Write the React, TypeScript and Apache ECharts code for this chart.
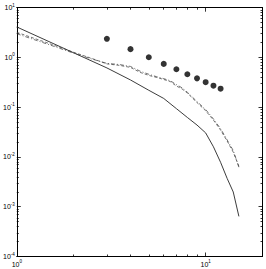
import React, { useEffect, useRef } from "react";
import * as echarts from "echarts";

const solidX = [1, 2, 3, 4, 5, 6, 7, 8, 9, 10, 11, 12, 13, 14, 15];
const solidY = [4.1, 1.24, 0.616, 0.353, 0.219, 0.15, 0.0937, 0.0623, 0.0438, 0.0305, 0.016, 0.0078, 0.0037, 0.00198, 0.00064];

const dashX = [1, 1.5, 2, 2.5, 3, 3.5, 4, 4.5, 5, 5.5, 6, 6.5, 7, 7.5, 8, 9, 10, 11, 12, 13, 14, 15];
const dashY = [3.2, 1.88, 1.27, 0.954, 0.743, 0.693, 0.631, 0.501, 0.436, 0.397, 0.361, 0.327, 0.267, 0.233, 0.193, 0.124, 0.085, 0.055, 0.0347, 0.0209, 0.0125, 0.0065];
const dashDotY = [3.0, 1.78, 1.22, 0.93, 0.76, 0.72, 0.66, 0.53, 0.46, 0.41, 0.375, 0.34, 0.285, 0.245, 0.2, 0.13, 0.09, 0.058, 0.037, 0.022, 0.0135, 0.0062];

const dotX = [3, 4, 5, 6, 7, 8, 9, 10, 11, 12];
const dotY = [2.37, 1.47, 1.01, 0.743, 0.58, 0.46, 0.38, 0.318, 0.271, 0.236];

const xMajor = [1, 10];
const xMinor = [2, 3, 4, 5, 6, 7, 8, 9, 20];
const yMajor = [1e-4, 1e-3, 1e-2, 1e-1, 1, 10];
const yMinor = [
  2e-4, 3e-4, 4e-4, 5e-4, 6e-4, 7e-4, 8e-4, 9e-4,
  2e-3, 3e-3, 4e-3, 5e-3, 6e-3, 7e-3, 8e-3, 9e-3,
  2e-2, 3e-2, 4e-2, 5e-2, 6e-2, 7e-2, 8e-2, 9e-2,
  0.2, 0.3, 0.4, 0.5, 0.6, 0.7, 0.8, 0.9,
  2, 3, 4, 5, 6, 7, 8, 9,
];

const FONT = "Liberation Sans";

const supFormatter = (v: number) => {
  const e = Math.round(Math.log10(v));
  return "{b|10}{s|" + e + "}";
};
const rich = {
  b: { fontSize: 7, fontFamily: FONT, color: "#000", lineHeight: 9 },
  s: { fontSize: 4.5, fontFamily: FONT, color: "#000", lineHeight: 9, padding: [0, 0, 5, 0] },
};

function makeAxis(kind: "x" | "y", position: string, major: boolean, labels: boolean) {
  const isX = kind === "x";
  return {
    type: "log",
    logBase: 10,
    min: isX ? 1 : 1e-4,
    max: isX ? 20 : 10,
    position,
    axisLine: { show: major, lineStyle: { color: "#000", width: 1 } },
    axisTick: {
      show: true,
      inside: true,
      length: major ? 4 : 2,
      lineStyle: { color: "#000", width: 0.8 },
      customValues: major ? (isX ? xMajor : yMajor) : isX ? xMinor : yMinor,
    },
    minorTick: { show: false },
    splitLine: { show: false },
    axisLabel: labels
      ? {
          show: true,
          customValues: isX ? xMajor : yMajor,
          formatter: supFormatter,
          rich,
          margin: isX ? 3 : 2,
        }
      : { show: false },
  };
}

export default function App() {
  const ref = useRef<HTMLDivElement>(null);
  useEffect(() => {
    if (!ref.current) return;
    const chart = echarts.init(ref.current, null, { renderer: "svg" });
    chart.setOption({
      animation: false,
      backgroundColor: "#fff",
      grid: { left: 16, right: 3.5, top: 7.7, bottom: 12.5, containLabel: false },
      xAxis: [
        makeAxis("x", "bottom", true, true),
        makeAxis("x", "bottom", false, false),
        makeAxis("x", "top", true, false),
        makeAxis("x", "top", false, false),
      ],
      yAxis: [
        makeAxis("y", "left", true, true),
        makeAxis("y", "left", false, false),
        makeAxis("y", "right", true, false),
        makeAxis("y", "right", false, false),
      ],
      series: [
        {
          type: "line",
          data: solidX.map((x, i) => [x, solidY[i]]),
          showSymbol: false,
          lineStyle: { color: "#262626", width: 0.9, type: "solid" },
          xAxisIndex: 0,
          yAxisIndex: 0,
        },
        {
          type: "line",
          data: dashX.map((x, i) => [x, dashY[i]]),
          showSymbol: false,
          lineStyle: { color: "#3a3a3a", width: 0.7, type: [3, 2] },
          xAxisIndex: 0,
          yAxisIndex: 0,
        },
        {
          type: "line",
          data: dashX.map((x, i) => [x, dashDotY[i]]),
          showSymbol: false,
          lineStyle: { color: "#3a3a3a", width: 0.7, type: [4, 2, 1, 2] },
          xAxisIndex: 0,
          yAxisIndex: 0,
        },
        {
          type: "scatter",
          data: dotX.map((x, i) => [x, dotY[i]]),
          symbol: "circle",
          symbolSize: 6,
          itemStyle: { color: "#000" },
          xAxisIndex: 0,
          yAxisIndex: 0,
        },
        { type: "line", data: [], xAxisIndex: 1, yAxisIndex: 1 },
        { type: "line", data: [], xAxisIndex: 2, yAxisIndex: 2 },
        { type: "line", data: [], xAxisIndex: 3, yAxisIndex: 3 },
      ],
    });
    return () => chart.dispose();
  }, []);
  return (
    <div
      ref={ref}
      style={{ position: "fixed", left: 0, top: 0, width: 266, height: 269, background: "#fff" }}
    />
  );
}
